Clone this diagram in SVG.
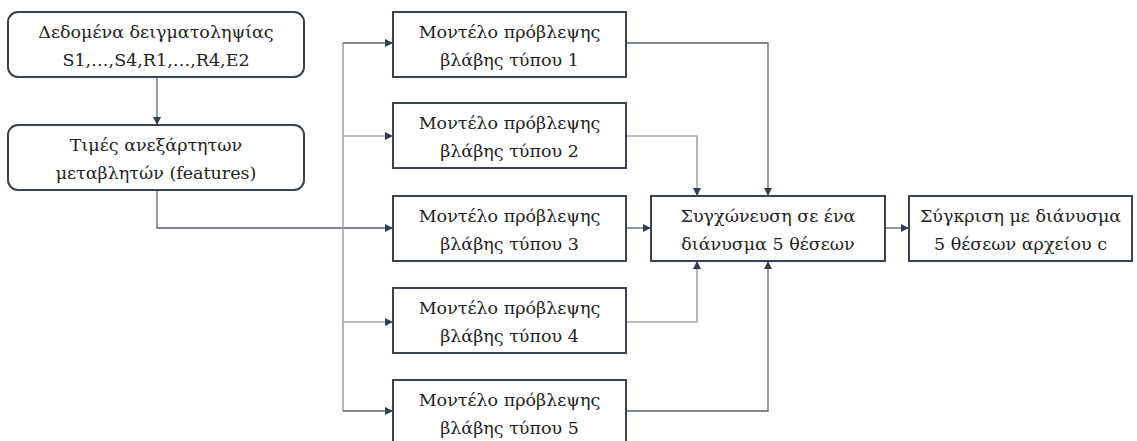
<svg xmlns="http://www.w3.org/2000/svg" width="1137" height="441" viewBox="0 0 1137 441">
<style>
.box{fill:#fff;stroke:#3b4350;stroke-width:2}
.t{font-family:"DejaVu Serif",serif;font-size:17.5px;fill:#222;text-anchor:middle}
.c{fill:none;stroke:#5a6270;stroke-width:1.3}
.g{fill:none;stroke:#a6a6a6;stroke-width:1.6}
</style>
<defs>
<marker id="ah" viewBox="0 0 10 10" refX="10" refY="5" markerWidth="9" markerHeight="8" markerUnits="userSpaceOnUse" orient="auto">
<path d="M0,0 L10,5 L0,10 z" fill="#333f50"/>
</marker>
</defs>
<g id="connectors">
<path class="c" d="M157,77 V125" marker-end="url(#ah)"/>
<path class="c" d="M157,190 V228 H393" marker-end="url(#ah)"/>
<path class="g" d="M343,411 V43"/>
<path class="c" d="M343,43 H393" marker-end="url(#ah)"/>
<path class="g" d="M343,136 H393" marker-end="url(#ah)"/>
<path class="g" d="M343,322 H393" marker-end="url(#ah)"/>
<path class="c" d="M343,411 H393" marker-end="url(#ah)"/>
<path class="c" d="M626,43 H768 V196" marker-end="url(#ah)"/>
<path class="g" d="M626,136 H697 V196" marker-end="url(#ah)"/>
<path class="c" d="M626,228 H651" marker-end="url(#ah)"/>
<path class="g" d="M626,322 H697 V261" marker-end="url(#ah)"/>
<path class="c" d="M626,411 H768 V261" marker-end="url(#ah)"/>
<path class="c" d="M885,228 H909" marker-end="url(#ah)"/>
</g>
<g id="data">
<rect class="box" x="8" y="12" width="296" height="65" rx="10"/>
<text class="t" x="156" y="38">Δεδομένα δειγματοληψίας</text>
<text class="t" x="156" y="66">S1,…,S4,R1,…,R4,E2</text>
</g>
<g id="features">
<rect class="box" x="8" y="125" width="296" height="65" rx="10"/>
<text class="t" x="156" y="151">Τιμές ανεξάρτητων</text>
<text class="t" x="156" y="179">μεταβλητών (features)</text>
</g>
<g id="model1">
<rect class="box" x="393" y="12" width="233" height="65"/>
<text class="t" x="509.5" y="38">Μοντέλο πρόβλεψης</text>
<text class="t" x="509.5" y="66">βλάβης τύπου 1</text>
</g>
<g id="model2">
<rect class="box" x="393" y="103" width="233" height="65"/>
<text class="t" x="509.5" y="129">Μοντέλο πρόβλεψης</text>
<text class="t" x="509.5" y="157">βλάβης τύπου 2</text>
</g>
<g id="model3">
<rect class="box" x="393" y="196" width="233" height="65"/>
<text class="t" x="509.5" y="222">Μοντέλο πρόβλεψης</text>
<text class="t" x="509.5" y="250">βλάβης τύπου 3</text>
</g>
<g id="model4">
<rect class="box" x="393" y="288" width="233" height="65"/>
<text class="t" x="509.5" y="314">Μοντέλο πρόβλεψης</text>
<text class="t" x="509.5" y="342">βλάβης τύπου 4</text>
</g>
<g id="model5">
<rect class="box" x="393" y="380" width="233" height="66"/>
<text class="t" x="509.5" y="406">Μοντέλο πρόβλεψης</text>
<text class="t" x="509.5" y="434">βλάβης τύπου 5</text>
</g>
<g id="merge">
<rect class="box" x="651" y="196" width="234" height="65"/>
<text class="t" x="768" y="222">Συγχώνευση σε ένα</text>
<text class="t" x="768" y="250">διάνυσμα 5 θέσεων</text>
</g>
<g id="compare">
<rect class="box" x="909" y="196" width="223" height="65"/>
<text class="t" x="1020.5" y="222">Σύγκριση με διάνυσμα</text>
<text class="t" x="1020.5" y="250">5 θέσεων αρχείου c</text>
</g>
</svg>
